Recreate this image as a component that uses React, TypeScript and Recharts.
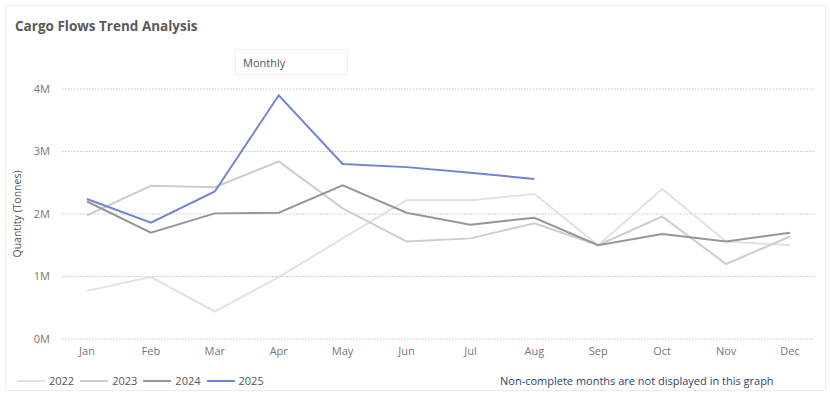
import React from 'react';
import { LineChart, Line, XAxis, YAxis, CartesianGrid } from 'recharts';

const months = ['Jan', 'Feb', 'Mar', 'Apr', 'May', 'Jun', 'Jul', 'Aug', 'Sep', 'Oct', 'Nov', 'Dec'];
const y2022 = [0.77, 0.99, 0.44, 0.99, 1.61, 2.22, 2.22, 2.32, 1.5, 2.4, 1.56, 1.5];
const y2023 = [1.98, 2.45, 2.43, 2.84, 2.09, 1.56, 1.61, 1.85, 1.5, 1.96, 1.2, 1.64];
const y2024 = [2.2, 1.7, 2.01, 2.02, 2.46, 2.02, 1.83, 1.94, 1.5, 1.68, 1.56, 1.7];
const y2025: (number | null)[] = [2.24, 1.86, 2.36, 3.9, 2.8, 2.75, 2.66, 2.56, null, null, null, null];
const yTicks = [0, 1, 2, 3, 4];

const series = [
  { key: 'y2022', label: '2022', color: '#e2e2e2' },
  { key: 'y2023', label: '2023', color: '#cdcdcd' },
  { key: 'y2024', label: '2024', color: '#979797' },
  { key: 'y2025', label: '2025', color: '#7183d6' },
];

const data = months.map((m, i) => ({
  month: m,
  y2022: y2022[i] * 1e6,
  y2023: y2023[i] * 1e6,
  y2024: y2024[i] * 1e6,
  y2025: y2025[i] == null ? null : (y2025[i] as number) * 1e6,
}));

const font = '"Open Sans", "Noto Sans", sans-serif';

export default function App() {
  return (
    <div style={{ position: 'absolute', left: 0, top: 0, width: 830, height: 394, background: '#fff', fontFamily: font }}>
      <div style={{ position: 'absolute', left: 5, top: 5, width: 821, height: 386, border: '1px solid #ececec', borderRadius: 3, boxSizing: 'border-box' }} />
      <div style={{ position: 'absolute', left: 15, top: 17, fontSize: 13.5, fontWeight: 700, color: '#5a5a5a' }}>
        Cargo Flows Trend Analysis
      </div>
      <div style={{ position: 'absolute', left: 235, top: 49, width: 113, height: 26, border: '1px solid #f0f0f0', boxSizing: 'border-box', fontSize: 11, color: '#555', paddingLeft: 7, lineHeight: '26px' }}>
        Monthly
      </div>
      <div style={{ position: 'absolute', left: 0, top: 0 }}>
        <LineChart width={830} height={394} data={data} margin={{ top: 89, right: 15, bottom: 35, left: 0 }}>
          <CartesianGrid vertical={false} stroke="#c8c8c8" strokeDasharray="1.5 1.5" />
          <XAxis
            dataKey="month"
            height={20}
            axisLine={false}
            tickLine={false}
            padding={{ left: 25, right: 25 }}
            tick={{ fontSize: 11, fill: '#777', fontFamily: font }}
            tickSize={0}
            tickMargin={8}
            interval={0}
          />
          <YAxis
            width={62}
            domain={[0, 4e6]}
            ticks={yTicks.map((t) => t * 1e6)}
            tickFormatter={(v: number) => `${v / 1e6}M`}
            axisLine={false}
            tickLine={false}
            tickSize={0}
            tickMargin={12}
            tick={{ fontSize: 11, fill: '#777', fontFamily: font }}
            label={(props: any) => {
              const vb = props.viewBox || { y: 89, height: 250 };
              const cy = vb.y + vb.height / 2;
              return (
                <text x={21} y={cy} transform={`rotate(-90 21 ${cy})`} textAnchor="middle" fontSize={10.5} fill="#555" fontFamily={font}>
                  Quantity (Tonnes)
                </text>
              );
            }}
          />
          {series.map((s) => (
            <Line
              key={s.key}
              type="linear"
              dataKey={s.key}
              stroke={s.color}
              strokeWidth={2}
              dot={false}
              activeDot={false}
              isAnimationActive={false}
            />
          ))}
        </LineChart>
      </div>
      <div style={{ position: 'absolute', left: 17, top: 373, display: 'flex', alignItems: 'center', fontSize: 11, color: '#555' }}>
        {series.map((s) => (
          <div key={s.key} style={{ display: 'flex', alignItems: 'center', marginRight: 6 }}>
            <div style={{ width: 28, height: 2, background: s.color, marginRight: 4 }} />
            <span>{s.label}</span>
          </div>
        ))}
      </div>
      <div style={{ position: 'absolute', left: 500, top: 373, fontSize: 11, color: '#2e3f75' }}>
        Non-complete months are not displayed in this graph
      </div>
    </div>
  );
}
